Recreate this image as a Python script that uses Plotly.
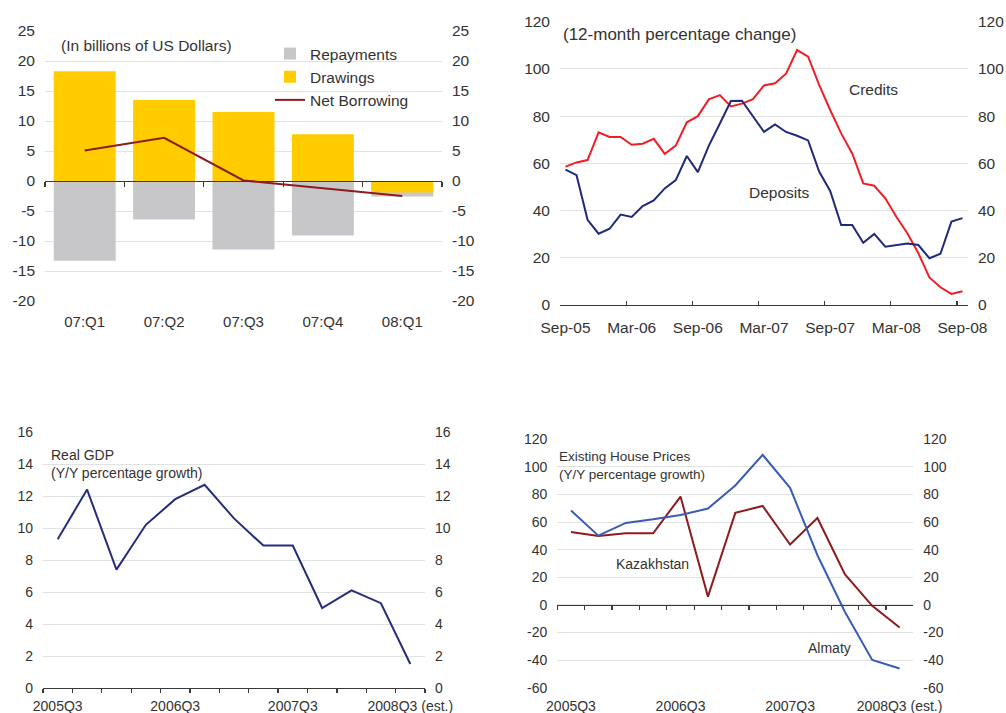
import plotly.graph_objects as go

W, H = 1006, 713
FONT = "Liberation Sans, Arial, sans-serif"
TXT = "#333333"
GRID = "#e2e2e2"
AXC = "#3a3a3a"

# ---------------- data ----------------
# Panel A: external borrowing (billions of US$)
quarters_a = ["07:Q1", "07:Q2", "07:Q3", "07:Q4", "08:Q1"]
repayments = [-13.3, -6.4, -11.4, -9.1, -2.6]
drawings = [18.3, 13.5, 11.5, 7.8, -1.9]
net_borrowing = [5.1, 7.2, 0.1, -1.2, -2.5]

# Panel B: credits / deposits, 12-month % change (Sep-05 .. Sep-08)
month_names = ["Jan", "Feb", "Mar", "Apr", "May", "Jun",
               "Jul", "Aug", "Sep", "Oct", "Nov", "Dec"]
months = []
for yr in (5, 6, 7, 8):
    for mi, mn in enumerate(month_names):
        if (yr == 5 and mi < 8) or (yr == 8 and mi > 8):
            continue
        months.append(f"{mn}-{yr:02d}")
credits = [58.6, 60.4, 61.4, 73.1, 71.2, 71.2, 67.9, 68.3, 70.4, 64.0,
           67.5, 77.4, 80.0, 87.1, 88.9, 84.1, 85.3, 87.2, 93.0, 93.9,
           98.0, 108.0, 105.2, 93.2, 82.6, 72.7, 64.2, 51.5, 50.5, 45.2,
           37.4, 30.4, 21.9, 11.7, 7.5, 4.7, 5.8]
deposits = [57.3, 55.0, 36.1, 30.2, 32.3, 38.3, 37.3, 41.9, 44.3, 49.4,
            52.9, 63.1, 56.3, 67.5, 76.9, 86.4, 86.5, 80.0, 73.3, 76.5,
            73.3, 71.7, 69.7, 56.5, 48.3, 33.9, 33.9, 26.4, 30.1, 24.7,
            25.4, 26.0, 25.4, 19.8, 21.7, 35.3, 36.8]

# Panels C and D: quarterly (2005Q3 .. 2008Q3)
quarters = ["2005Q3", "2005Q4", "2006Q1", "2006Q2", "2006Q3", "2006Q4",
            "2007Q1", "2007Q2", "2007Q3", "2007Q4", "2008Q1", "2008Q2",
            "2008Q3"]
quarter_ticktext = ["2005Q3", "", "", "", "2006Q3", "", "", "", "2007Q3",
                    "", "", "", "2008Q3 (est.)"]
real_gdp = [9.3, 12.4, 7.4, 10.2, 11.8, 12.7, 10.6, 8.9, 8.9, 5.0, 6.1, 5.3, 1.5]
almaty = [68.4, 50.2, 59.4, 62.0, 65.2, 69.8, 86.5, 108.7, 84.8, 36.0, -5.0,
          -39.9, -46.1]
kazakhstan = [52.9, 50.0, 51.9, 51.9, 78.5, 6.0, 66.7, 71.7, 43.7, 63.0,
              22.2, -0.7, -16.4]

# tick values / labels
ticks_a = [-20, -15, -10, -5, 0, 5, 10, 15, 20, 25]
grid_a = [-20, -15, -10, -5, 0, 5, 10, 15, 20]
ticks_b = [0, 20, 40, 60, 80, 100, 120]
ticks_c = [0, 2, 4, 6, 8, 10, 12, 14, 16]
ticks_d = [-60, -40, -20, 0, 20, 40, 60, 80, 100, 120]


def fx(p):
    return p / W


def fy(p):
    return 1 - p / H


# ---------------- layout geometry ----------------
dom_ax = [fx(45), fx(442)]
dom_ay = [fy(301), fy(31)]
dom_bx = [fx(560), fx(968)]
dom_by = [fy(305), fy(21.7)]
dom_cx = [fx(43), fx(425)]
dom_cy = [fy(688), fy(432)]
dom_dx = [fx(557.3), fx(913.3)]
dom_dy = [fy(687.7), fy(439.3)]

rng_a = [-20, 25]
rng_b = [0, 120]
rng_c = [0, 16]
rng_d = [-60, 120]


def zero_pos(dom, rng):
    return dom[0] + (0 - rng[0]) / (rng[1] - rng[0]) * (dom[1] - dom[0])


fig = go.Figure()


def ghost(x, y, xa, ya):
    # invisible carrier trace so that an overlaying axis gets drawn
    fig.add_trace(go.Scatter(x=x, y=y, xaxis=xa, yaxis=ya, mode="lines",
                             line=dict(width=0, color="rgba(0,0,0,0)"),
                             opacity=0, hoverinfo="skip", showlegend=False))


# Panel A
fig.add_trace(go.Bar(x=quarters_a, y=repayments, name="Repayments",
                     marker=dict(color="#c7c7c9", line=dict(width=0)),
                     width=0.78, xaxis="x", yaxis="y"))
fig.add_trace(go.Bar(x=quarters_a, y=drawings, name="Drawings",
                     marker=dict(color="#ffcc00", line=dict(width=0)),
                     width=0.78, xaxis="x", yaxis="y"))
fig.add_trace(go.Scatter(x=quarters_a, y=net_borrowing, name="Net Borrowing",
                         mode="lines", line=dict(color="#8e1b1e", width=2),
                         xaxis="x2", yaxis="y"))
ghost(quarters_a, net_borrowing, "x", "y2")
ghost(quarters_a, net_borrowing, "x", "y3")

# Panel B
fig.add_trace(go.Scatter(x=months, y=credits, name="Credits", mode="lines",
                         line=dict(color="#ee1f26", width=2),
                         xaxis="x3", yaxis="y4", showlegend=False))
fig.add_trace(go.Scatter(x=months, y=deposits, name="Deposits", mode="lines",
                         line=dict(color="#1f2a78", width=2),
                         xaxis="x3", yaxis="y4", showlegend=False))
ghost(months, credits, "x3", "y5")

# Panel C
fig.add_trace(go.Scatter(x=quarters, y=real_gdp, name="Real GDP", mode="lines",
                         line=dict(color="#262d7a", width=2),
                         xaxis="x4", yaxis="y6", showlegend=False))
ghost(quarters, real_gdp, "x4", "y7")

# Panel D
fig.add_trace(go.Scatter(x=quarters, y=kazakhstan, name="Kazakhstan",
                         mode="lines", line=dict(color="#8e1b1e", width=2),
                         xaxis="x5", yaxis="y8", showlegend=False))
fig.add_trace(go.Scatter(x=quarters, y=almaty, name="Almaty", mode="lines",
                         line=dict(color="#3a5cb6", width=2),
                         xaxis="x6", yaxis="y8", showlegend=False))
ghost(quarters, almaty, "x5", "y9")

tf15 = dict(family=FONT, size=15.5, color=TXT)
tf14 = dict(family=FONT, size=14, color=TXT)


def ylab(dom, rng, vals, anchor, font, side="left", overlaying=None,
         grid=False):
    d = dict(range=rng, tickmode="array", tickvals=vals,
             ticktext=[str(v) for v in vals], showgrid=grid, gridcolor=GRID,
             gridwidth=1, zeroline=False, showline=False, ticks="",
             tickfont=font, anchor=anchor, side=side, ticklabelstandoff=9,
             automargin=False, fixedrange=True)
    if overlaying:
        d["overlaying"] = overlaying
    else:
        d["domain"] = dom
    return d


fig.update_layout(
    template="none",
    width=W, height=H, margin=dict(l=0, r=0, t=0, b=0, pad=0),
    paper_bgcolor="white", plot_bgcolor="white",
    font=dict(family=FONT, color=TXT),
    barmode="overlay",
    showlegend=True,
    legend=dict(x=fx(270), y=fy(37), xanchor="left", yanchor="top",
                font=dict(family=FONT, size=15.5, color=TXT),
                bgcolor="rgba(0,0,0,0)", borderwidth=0, itemwidth=30,
                tracegroupgap=0),
    # ---- panel A
    xaxis=dict(domain=dom_ax, anchor="y", type="category", range=[-0.5, 4.5],
               showline=False, ticks="", showgrid=False, zeroline=False,
               tickfont=dict(family=FONT, size=15, color=TXT), tickangle=0,
               ticklabelstandoff=10, automargin=False, fixedrange=True),
    xaxis2=dict(overlaying="x", anchor="free",
                position=zero_pos(dom_ay, rng_a), side="bottom",
                type="category", range=[-0.5, 4.5], tickmode="array",
                tickvals=quarters_a, tickson="boundaries", ticks="outside",
                ticklen=5, tickcolor=AXC, tickwidth=1.3, showline=True,
                linecolor=AXC, linewidth=1.3, showticklabels=False,
                showgrid=False, zeroline=False, automargin=False,
                fixedrange=True),
    yaxis=ylab(dom_ay, rng_a, ticks_a, "x", tf15),
    yaxis2=ylab(dom_ay, rng_a, ticks_a, "x", tf15, side="right",
                overlaying="y"),
    yaxis3=dict(overlaying="y", anchor="x", range=rng_a, tickmode="array",
                tickvals=grid_a, showgrid=True, gridcolor=GRID,
                showticklabels=False, zeroline=False, ticks="",
                showline=False, automargin=False, fixedrange=True),
    # ---- panel B
    xaxis3=dict(domain=dom_bx, anchor="y4", type="category",
                range=[-0.5, 36.5], tickmode="array", tickvals=months[::6],
                tickson="boundaries", ticks="inside", ticklen=4,
                tickcolor=AXC, tickwidth=1.3, showline=True, linecolor=AXC,
                linewidth=1.3, showgrid=False, zeroline=False, tickangle=0,
                tickfont=tf15, ticklabelstandoff=8, automargin=False,
                fixedrange=True),
    yaxis4=ylab(dom_by, rng_b, ticks_b, "x3", tf15, grid=True),
    yaxis5=ylab(dom_by, rng_b, ticks_b, "x3", tf15, side="right",
                overlaying="y4"),
    # ---- panel C
    xaxis4=dict(domain=dom_cx, anchor="y6", type="category",
                range=[-0.5, 12.5], tickmode="array", tickvals=quarters,
                ticktext=quarter_ticktext, tickson="boundaries",
                ticks="outside", ticklen=3.5, tickcolor=AXC, tickwidth=1.3,
                showline=True, linecolor=AXC, linewidth=1.3, showgrid=False,
                zeroline=False, tickfont=tf14, tickangle=0,
                ticklabelstandoff=5, automargin=False, fixedrange=True),
    yaxis6=ylab(dom_cy, rng_c, ticks_c, "x4", tf14, grid=True),
    yaxis7=ylab(dom_cy, rng_c, ticks_c, "x4", tf14, side="right",
                overlaying="y6"),
    # ---- panel D
    xaxis5=dict(domain=dom_dx, anchor="y8", type="category",
                range=[-0.5, 12.5], tickmode="array", tickvals=quarters,
                ticktext=quarter_ticktext, showline=False, ticks="",
                showgrid=False, zeroline=False, tickfont=tf14, tickangle=0,
                ticklabelstandoff=8, automargin=False, fixedrange=True),
    xaxis6=dict(overlaying="x5", anchor="free",
                position=zero_pos(dom_dy, rng_d), side="bottom",
                type="category", range=[-0.5, 12.5], tickmode="array",
                tickvals=quarters, tickson="boundaries", ticks="outside",
                ticklen=3.5, tickcolor=AXC, tickwidth=1.3, showline=True,
                linecolor=AXC, linewidth=1.3, showticklabels=False,
                showgrid=False, zeroline=False, automargin=False,
                fixedrange=True),
    yaxis8=ylab(dom_dy, rng_d, ticks_d, "x5", tf14, grid=True),
    yaxis9=ylab(dom_dy, rng_d, ticks_d, "x5", tf14, side="right",
                overlaying="y8"),
)

ann = [
    dict(text="(In billions of US Dollars)", x=fx(59), y=fy(45),
         xanchor="left", yanchor="middle", font=dict(size=15.5)),
    dict(text="(12-month percentage change)", x=fx(561), y=fy(34),
         xanchor="left", yanchor="middle", font=dict(size=17)),
    dict(text="Credits", x=fx(873), y=fy(89), xanchor="center",
         yanchor="middle", font=dict(size=15.5)),
    dict(text="Deposits", x=fx(779.5), y=fy(192), xanchor="center",
         yanchor="middle", font=dict(size=15.5)),
    dict(text="Real GDP<br>(Y/Y percentage growth)", x=fx(49), y=fy(445),
         xanchor="left", yanchor="top", align="left", font=dict(size=14)),
    dict(text="Existing House Prices<br>(Y/Y percentage growth)",
         x=fx(557), y=fy(447), xanchor="left", yanchor="top", align="left",
         font=dict(size=13.5)),
    dict(text="Kazakhstan", x=fx(652.7), y=fy(564.3), xanchor="center",
         yanchor="middle", font=dict(size=14)),
    dict(text="Almaty", x=fx(829), y=fy(647.7), xanchor="center",
         yanchor="middle", font=dict(size=14)),
]
for a in ann:
    a.update(xref="paper", yref="paper", showarrow=False)
    a["font"].update(family=FONT, color=TXT)
fig.update_layout(annotations=ann)

fig.write_html(
    "out.html",
    config={"displayModeBar": False, "staticPlot": True},
    post_script="document.body.style.margin='0px';"
                "document.body.style.overflow='hidden';",
)
